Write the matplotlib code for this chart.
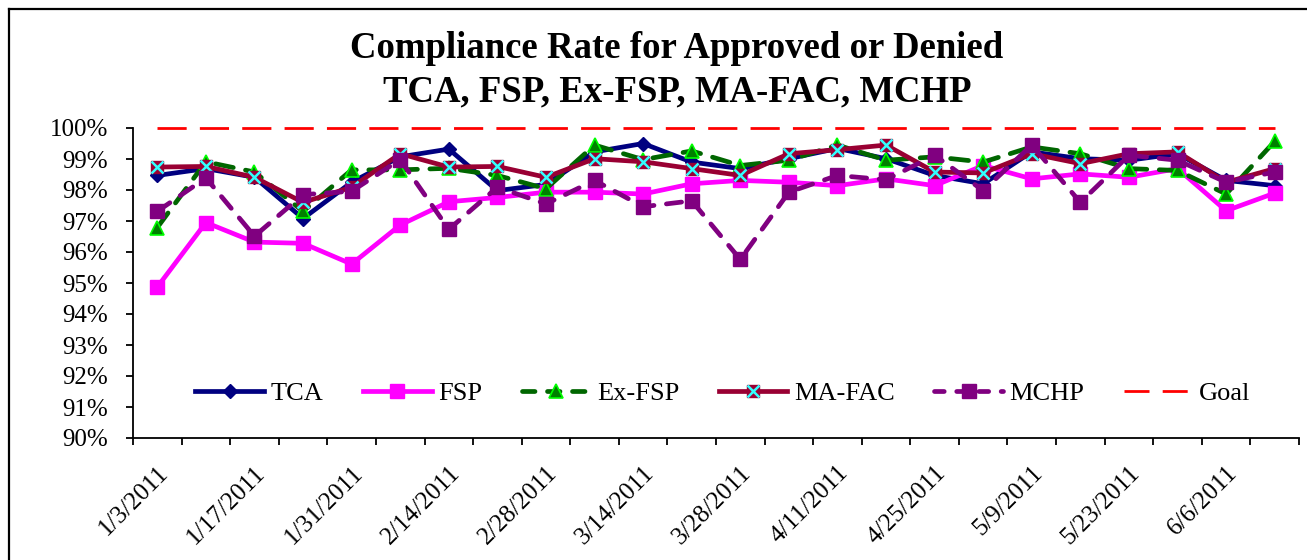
import matplotlib
matplotlib.use("Agg")
import matplotlib.pyplot as plt
from matplotlib.lines import Line2D

plt.rcParams['font.family'] = ['Liberation Serif', 'DejaVu Serif']
plt.rcParams['lines.scale_dashes'] = False

dates = ["1/3/2011", "1/10/2011", "1/17/2011", "1/24/2011", "1/31/2011", "2/7/2011",
         "2/14/2011", "2/21/2011", "2/28/2011", "3/7/2011", "3/14/2011", "3/21/2011",
         "3/28/2011", "4/4/2011", "4/11/2011", "4/18/2011", "4/25/2011", "5/2/2011",
         "5/9/2011", "5/16/2011", "5/23/2011", "5/30/2011", "6/6/2011", "6/13/2011"]

tca = [98.47, 98.69, 98.41, 97.08, 98.25, 99.07, 99.32, 97.98, 98.18, 99.23, 99.50, 98.90,
       98.69, 99.01, 99.34, 99.01, 98.47, 98.20, 99.23, 99.01, 98.96, 99.17, 98.31, 98.14]
fsp = [94.87, 96.95, 96.32, 96.28, 95.61, 96.87, 97.62, 97.76, 97.93, 97.93, 97.87, 98.20,
       98.31, 98.25, 98.14, 98.36, 98.14, 98.79, 98.36, 98.52, 98.41, 98.69, 97.33, 97.90]
exfsp = [96.79, 98.91, 98.58, 97.31, 98.65, 98.65, 98.70, 98.47, 98.04, 99.45, 98.98, 99.26,
         98.79, 98.96, 99.45, 98.96, 99.07, 98.90, 99.39, 99.17, 98.69, 98.63, 97.87, 99.57]
mafac = [98.74, 98.76, 98.41, 97.60, 98.09, 99.17, 98.74, 98.76, 98.41, 99.01, 98.91, 98.69,
         98.47, 99.17, 99.30, 99.45, 98.58, 98.55, 99.17, 98.85, 99.17, 99.23, 98.25, 98.69]
mchp = [97.31, 98.39, 96.51, 97.85, 97.96, 98.98, 96.73, 98.09, 97.55, 98.31, 97.46, 97.65,
        95.76, 97.93, 98.47, 98.33, 99.12, 97.98, 99.45, 97.60, 99.12, 98.96, 98.25, 98.58]
goal = [100.0] * len(dates)

yticks = list(range(90, 101))

W, H = 1307, 560
fig = plt.figure(figsize=(W / 100, H / 100), dpi=100)
ax = fig.add_axes([133 / W, 1 - 438 / H, (1299 - 133) / W, (438 - 128) / H])

x = list(range(len(dates)))
lw = 3.4

ax.plot(x, tca, color='#000080', lw=lw, marker='D', ms=7, mfc='#000080', mec='#000080',
        solid_joinstyle='miter', label='TCA', zorder=3)
ax.plot(x, fsp, color='#FF00FF', lw=lw, marker='s', ms=10, mfc='#FF00FF', mec='#FF00FF',
        label='FSP', zorder=4)
ax.plot(x, exfsp, color='#006600', lw=lw, ls=(0, (13, 9)), dash_capstyle='round',
        marker='^', ms=10, mfc='#008000', mec='#00FF00', mew=1.2, label='Ex-FSP', zorder=5)
ax.plot(x, mafac, color='#990033', lw=lw, marker='s', ms=9, mfc='#990033', mec='#990033',
        zorder=6)
ax.plot(x, mafac, ls='none', marker='x', ms=9, mec='#33FFFF', mew=1.8, zorder=6.5)
ax.plot(x, mchp, color='#800080', lw=lw, ls=(0, (11, 9)), dash_capstyle='round',
        marker='s', ms=9.5, mfc='#800080', mec='#800080', zorder=7)
ax.plot(x, goal, color='#FF0000', lw=2, ls=(0, (21, 9.5)), label='Goal', zorder=2,
        clip_on=False)

ax.set_xlim(-0.5, len(dates) - 0.5)
ax.set_ylim(90, 100)

ax.set_yticks(yticks)
ax.set_yticklabels([f"{v}%" for v in yticks], fontsize=18)
ax.tick_params(axis='y', direction='out', length=5, width=1.3, pad=13)

ax.set_xticks([i for i in x if i % 2 == 0])
ax.set_xticklabels([dates[i] for i in x if i % 2 == 0], rotation=45, ha='right',
                   va='top', rotation_mode='anchor', fontsize=18)
ax.set_xticks([i - 0.5 for i in range(len(dates) + 1)], minor=True)
ax.tick_params(axis='x', which='major', length=0, pad=17)
ax.tick_params(axis='x', which='minor', direction='out', length=5, width=1.3)

for s in ['top', 'right']:
    ax.spines[s].set_visible(False)
for s in ['left', 'bottom']:
    ax.spines[s].set_linewidth(1.3)

handles = [
    Line2D([], [], color='#000080', lw=lw, marker='D', ms=7, mfc='#000080', mec='#000080'),
    Line2D([], [], color='#FF00FF', lw=lw, marker='s', ms=10, mfc='#FF00FF', mec='#FF00FF'),
    Line2D([], [], color='#006600', lw=lw, ls=(0, (9, 9)), dash_capstyle='round',
           marker='^', ms=10, mfc='#008000', mec='#00FF00', mew=1.2),
    (Line2D([], [], color='#990033', lw=lw, marker='s', ms=9, mfc='#990033', mec='#990033'),
     Line2D([], [], ls='none', marker='x', ms=9, mec='#33FFFF', mew=1.8)),
    Line2D([], [], color='#800080', lw=lw, ls=(0, (7, 9)), dash_capstyle='round',
           marker='s', ms=9.5, mfc='#800080', mec='#800080'),
    Line2D([], [], color='#FF0000', lw=2, ls=(0, (18, 9.5))),
]
labels = ['TCA', 'FSP', 'Ex-FSP', 'MA-FAC', 'MCHP', 'Goal']
leg = ax.legend(handles, labels, ncol=6, loc='center', bbox_to_anchor=(0.506, 0.145),
                frameon=False, fontsize=19, handlelength=2.6, handletextpad=0.25,
                columnspacing=1.5)

fig.text(677 / W, 1 - 48 / H, "Compliance Rate for Approved or Denied", ha='center',
         va='center', fontsize=26.5, fontweight='bold')
fig.text(677 / W, 1 - 92 / H, "TCA, FSP, Ex-FSP, MA-FAC, MCHP", ha='center',
         va='center', fontsize=26.5, fontweight='bold')

# outer chart border (left and top edges visible)
fig.add_artist(Line2D([9 / W, 9 / W], [0, 1 - 9 / H], color='black', lw=1.6,
                      transform=fig.transFigure))
fig.add_artist(Line2D([9 / W, 1], [1 - 9 / H, 1 - 9 / H], color='black', lw=1.6,
                      transform=fig.transFigure))

fig.savefig("out.png", dpi=100)
